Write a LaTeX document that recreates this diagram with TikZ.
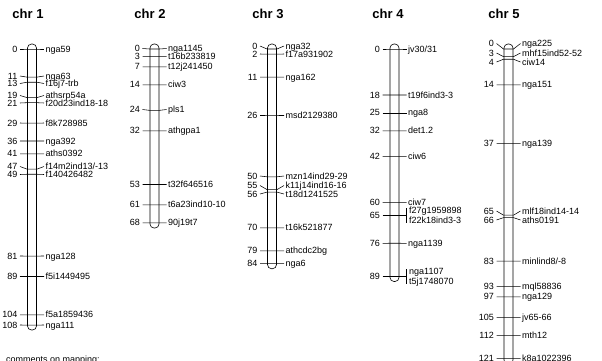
\documentclass[tikz,border=0pt]{standalone}
\usepackage{fontspec}
\setmainfont{Liberation Sans}
\tikzset{
	chrbar/.style={draw=black, line width=0.6pt, rounded corners=4pt},
	mtick/.style={draw=black, line width=0.55pt},
	mbracket/.style={draw=black, line width=0.55pt},
	mpos/.style={anchor=east, inner sep=0pt, text height=6pt, text depth=0pt, font=\fontsize{9}{10}\selectfont},
	mname/.style={anchor=west, inner sep=0pt, text height=6pt, text depth=0pt, font=\fontsize{9}{10}\selectfont},
	chrtitle/.style={inner sep=0pt, font=\fontsize{13}{15}\selectfont\bfseries},
}
% #1 chromosome, #2 centre x, #3 position (cM), #4 label y, #5 marker
\newcommand{\marker}[5]{%
	\pgfmathsetmacro{\mkY}{49+2.556*#3}
	\coordinate (#1-#3-a) at (#2-12,#4);
	\coordinate (#1-#3-b) at (#2-5,\mkY);
	\coordinate (#1-#3-c) at (#2+5,\mkY);
	\coordinate (#1-#3-d) at (#2+12,#4);
	\draw[mtick] (#1-#3-a) -- (#1-#3-b) -- (#1-#3-c) -- (#1-#3-d);
	\node[mpos] (#1-#3-pos) at (#2-14.5,#4) {#3};
	\node[mname] (#1-#3-lab) at (#2+13.5,#4) {#5};
}
% two markers at one position, joined by a bracket
\newcommand{\markerpair}[7]{%
	\pgfmathsetmacro{\mkY}{49+2.556*#3}
	\coordinate (#1-#3-a) at (#2-12,\mkY);
	\coordinate (#1-#3-d) at (#2+12,\mkY);
	\coordinate (#1-#3-t) at (#2+12,#4-2.5);
	\coordinate (#1-#3-u) at (#2+12,#5+2.5);
	\draw[mtick] (#1-#3-a) -- (#1-#3-d);
	\draw[mbracket] (#1-#3-t) -- (#1-#3-u);
	\node[mpos] (#1-#3-pos) at (#2-14.5,\mkY) {#3};
	\node[mname] (#1-#3-lab1) at (#2+14.5,#4) {#6};
	\node[mname] (#1-#3-lab2) at (#2+14.5,#5) {#7};
}
\begin{document}
\begin{tikzpicture}[x=1pt, y=-1pt]
	\useasboundingbox (0,0) rectangle (602,360);
	% chromosome 1
	\node[chrtitle] (t1) at (28,14) {chr 1};
	\coordinate (c1-top) at (27.5,44);
	\coordinate (c1-bot) at (36.5,330);
	\draw[chrbar] (c1-top) rectangle (c1-bot);
	\marker{c1}{32}{0}{49}{nga59}
	\marker{c1}{32}{11}{76}{nga63}
	\marker{c1}{32}{13}{83.5}{f16j7-trb}
	\marker{c1}{32}{19}{95.5}{athsrp54a}
	\marker{c1}{32}{21}{103}{f20d23ind18-18}
	\marker{c1}{32}{29}{123}{f8k728985}
	\marker{c1}{32}{36}{141}{nga392}
	\marker{c1}{32}{41}{153.8}{aths0392}
	\marker{c1}{32}{47}{166.5}{f14m2ind13/-13}
	\marker{c1}{32}{49}{174.5}{f140426482}
	\marker{c1}{32}{81}{256}{nga128}
	\marker{c1}{32}{89}{276.5}{f5i1449495}
	\marker{c1}{32}{104}{314.8}{f5a1859436}
	\marker{c1}{32}{108}{325}{nga111}
	% chromosome 2
	\node[chrtitle] (t2) at (150,14) {chr 2};
	\coordinate (c2-top) at (150,44);
	\coordinate (c2-bot) at (159,228);
	\draw[chrbar] (c2-top) rectangle (c2-bot);
	\marker{c2}{154.5}{0}{48.5}{nga1145}
	\marker{c2}{154.5}{3}{56.7}{t16b233819}
	\marker{c2}{154.5}{7}{66.9}{t12j241450}
	\marker{c2}{154.5}{14}{84.8}{ciw3}
	\marker{c2}{154.5}{24}{109.5}{pls1}
	\marker{c2}{154.5}{32}{130.8}{athgpa1}
	\marker{c2}{154.5}{53}{184.5}{t32f646516}
	\marker{c2}{154.5}{61}{204.9}{t6a23ind10-10}
	\marker{c2}{154.5}{68}{222.8}{90j19t7}
	% chromosome 3
	\node[chrtitle] (t3) at (268,14) {chr 3};
	\coordinate (c3-top) at (267.5,44);
	\coordinate (c3-bot) at (276.5,268.7);
	\draw[chrbar] (c3-top) rectangle (c3-bot);
	\marker{c3}{272}{0}{46}{nga32}
	\marker{c3}{272}{2}{54}{f17a931902}
	\marker{c3}{272}{11}{77.1}{nga162}
	\marker{c3}{272}{26}{115.5}{msd2129380}
	\marker{c3}{272}{50}{176}{mzn14ind29-29}
	\marker{c3}{272}{55}{185.5}{k11j14ind16-16}
	\marker{c3}{272}{56}{194}{t18d1241525}
	\marker{c3}{272}{70}{227.9}{t16k521877}
	\marker{c3}{272}{79}{250.9}{athcdc2bg}
	\marker{c3}{272}{84}{263.7}{nga6}
	% chromosome 4
	\node[chrtitle] (t4) at (388,14) {chr 4};
	\coordinate (c4-top) at (390,44);
	\coordinate (c4-bot) at (399,281.5);
	\draw[chrbar] (c4-top) rectangle (c4-bot);
	\marker{c4}{394.5}{0}{49}{jv30/31}
	\marker{c4}{394.5}{18}{95}{t19f6ind3-3}
	\marker{c4}{394.5}{25}{112.9}{nga8}
	\marker{c4}{394.5}{32}{130.8}{det1.2}
	\marker{c4}{394.5}{42}{156.4}{ciw6}
	\marker{c4}{394.5}{60}{202.4}{ciw7}
	\markerpair{c4}{394.5}{65}{210.7}{220.7}{f27g1959898}{f22k18ind3-3}
	\marker{c4}{394.5}{76}{243.3}{nga1139}
	\markerpair{c4}{394.5}{89}{271.5}{281.5}{nga1107}{t5j1748070}
	% chromosome 5
	\node[chrtitle] (t5) at (504,14) {chr 5};
	\coordinate (c5-top) at (504,44);
	\coordinate (c5-bot) at (513,364);
	\draw[chrbar] (c5-top) rectangle (c5-bot);
	\marker{c5}{508.5}{0}{43.5}{nga225}
	\marker{c5}{508.5}{3}{53}{mhf15ind52-52}
	\marker{c5}{508.5}{4}{62}{ciw14}
	\marker{c5}{508.5}{14}{84.8}{nga151}
	\marker{c5}{508.5}{37}{143.6}{nga139}
	\marker{c5}{508.5}{65}{211}{mlf18ind14-14}
	\marker{c5}{508.5}{66}{220}{aths0191}
	\marker{c5}{508.5}{83}{261.1}{minlind8/-8}
	\marker{c5}{508.5}{93}{286.7}{mql58836}
	\marker{c5}{508.5}{97}{296.9}{nga129}
	\marker{c5}{508.5}{105}{317.4}{jv65-66}
	\marker{c5}{508.5}{112}{335.3}{mth12}
	\marker{c5}{508.5}{121}{358.3}{k8a1022396}
	% footer
	\node[mname] (note) at (6,359.5) {comments on mapping:};
\end{tikzpicture}
\end{document}
